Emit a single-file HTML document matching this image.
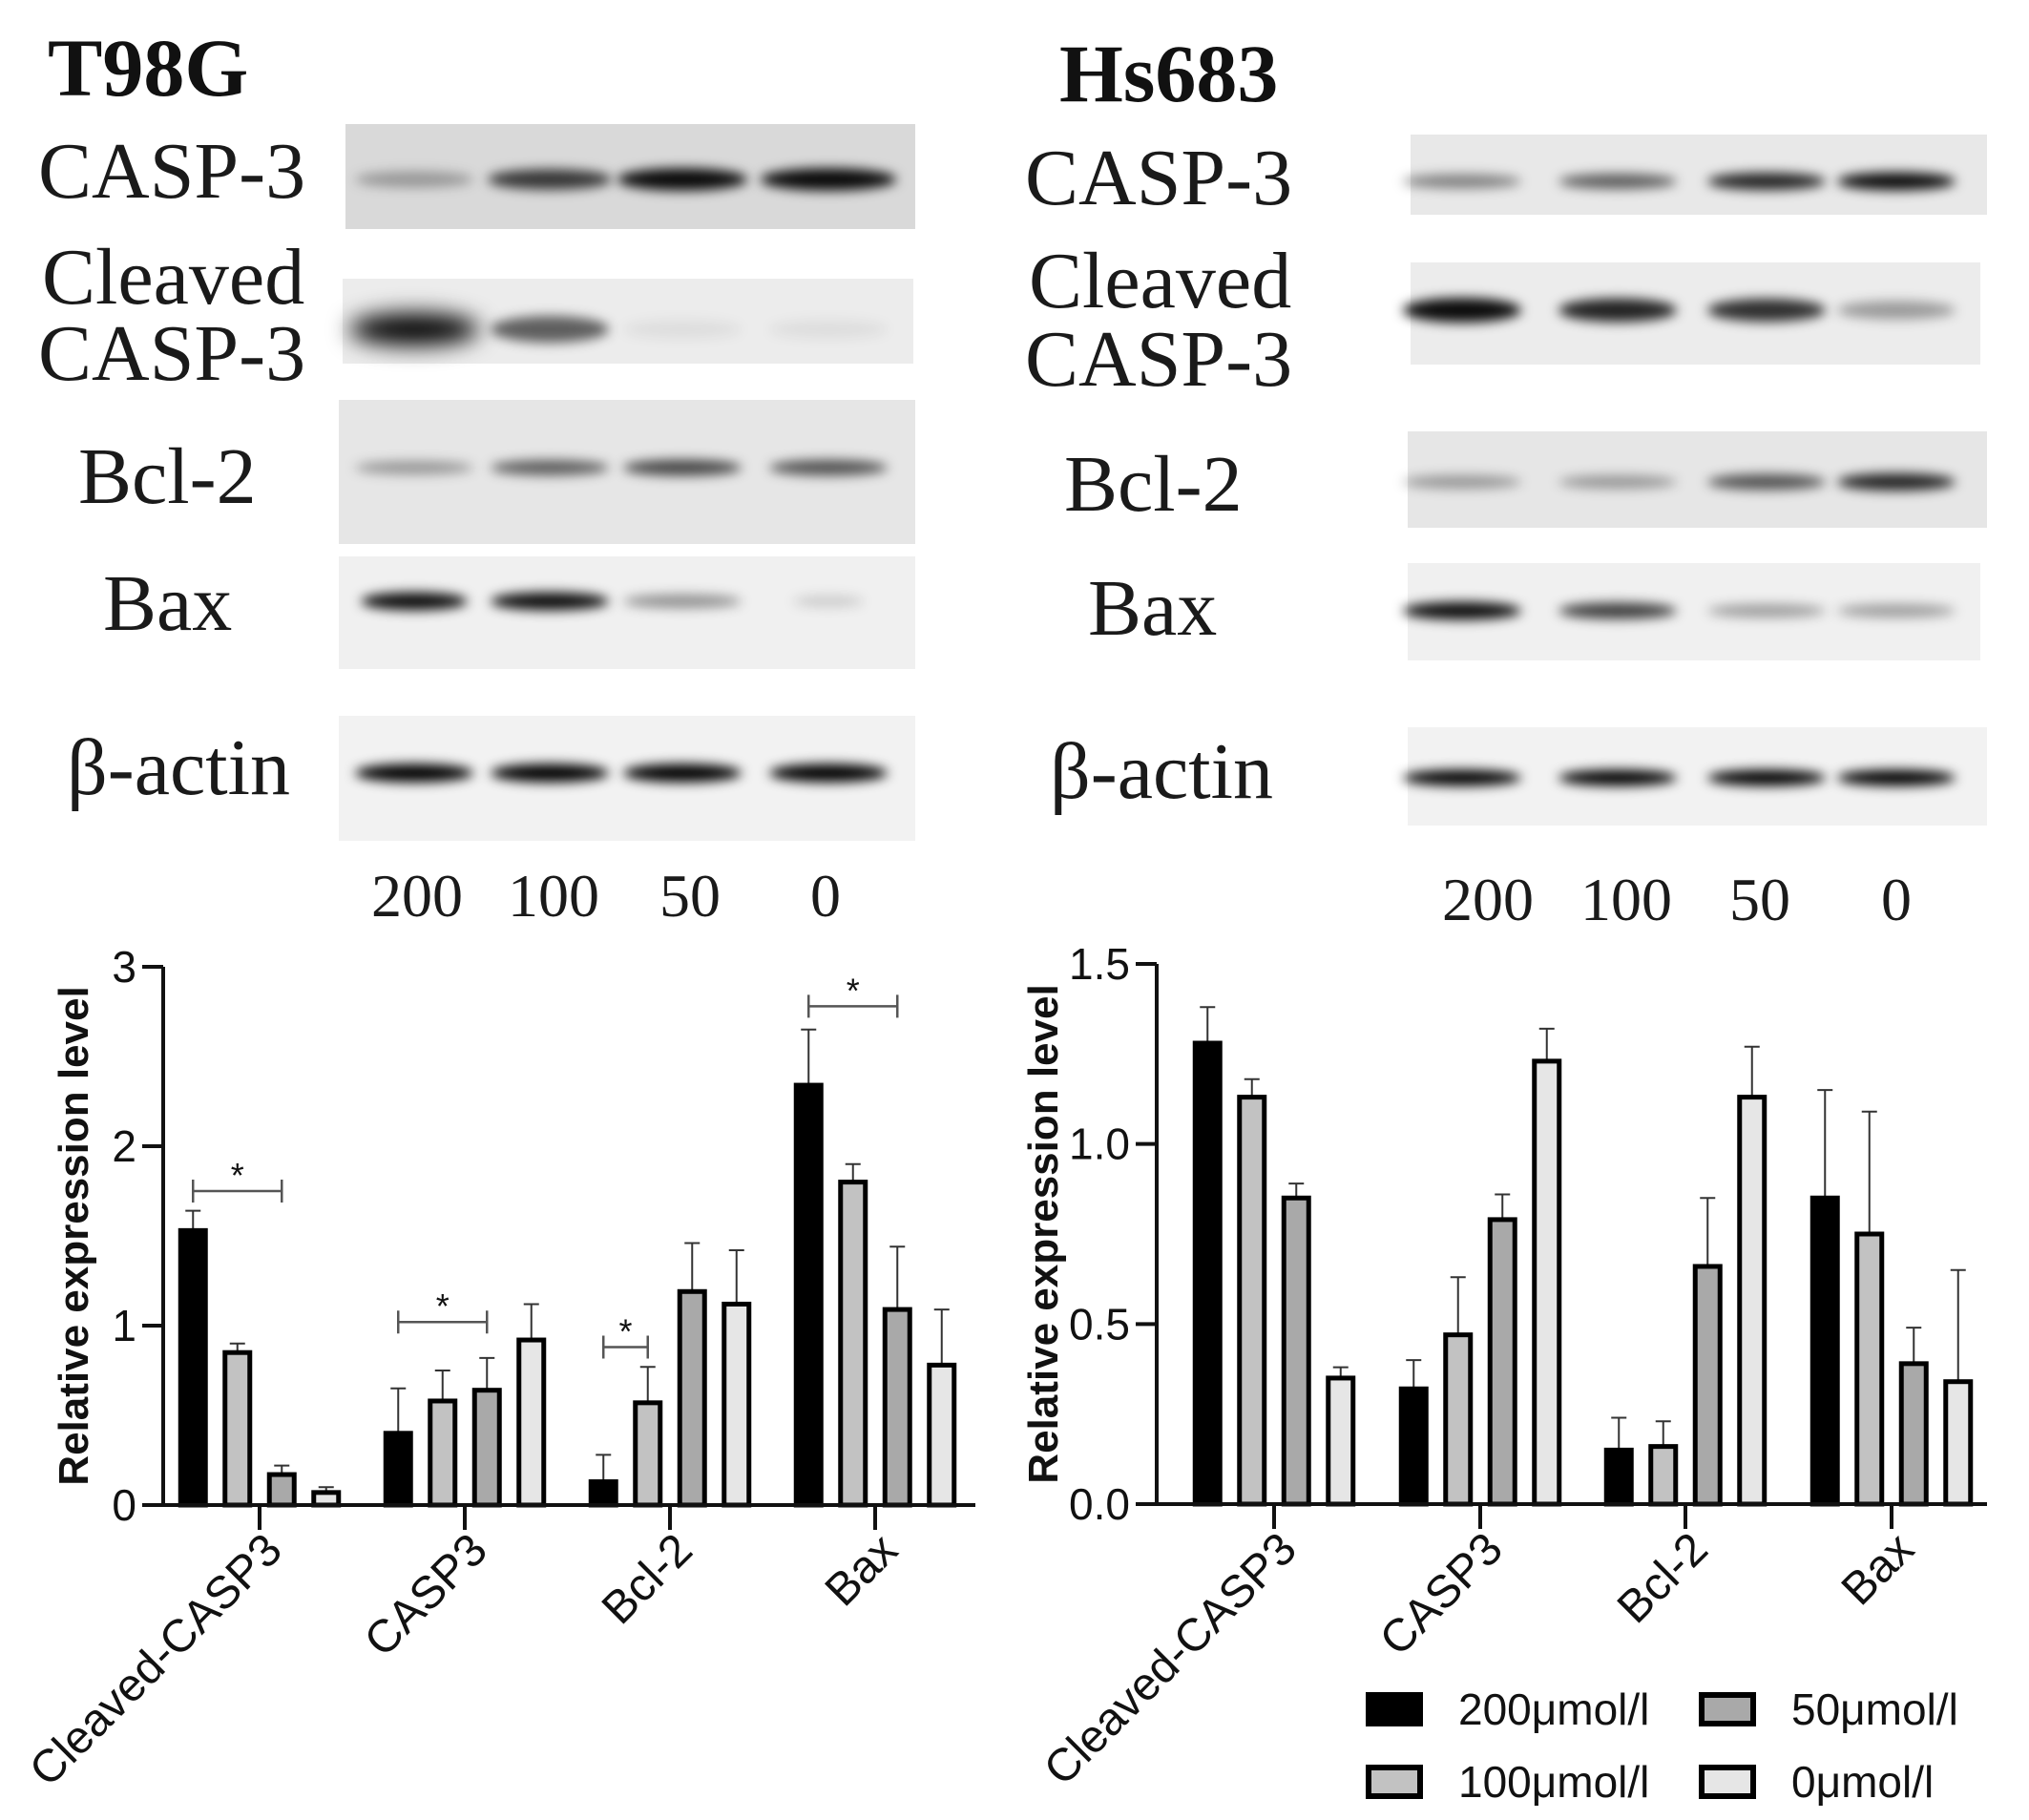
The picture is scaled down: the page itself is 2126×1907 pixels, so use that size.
<!DOCTYPE html>
<html><head><meta charset="utf-8">
<style>
html,body{margin:0;padding:0;background:#fff;}
#root{position:relative;width:2126px;height:1907px;overflow:hidden;background:#fff;}
svg{position:absolute;left:0;top:0;}
.blab{font-family:"Liberation Serif",serif;font-size:84px;fill:#1a1a1a;}
.ttl{font-family:"Liberation Serif",serif;font-size:86px;font-weight:bold;fill:#111;}
.num{font-family:"Liberation Serif",serif;font-size:64px;fill:#1a1a1a;}
.ax{font-family:"Liberation Sans",sans-serif;fill:#111;}
</style></head>
<body>
<div id="root">
<svg id="blots" width="2126" height="1907">
<defs>
<filter id="bl" x="-50%" y="-100%" width="200%" height="300%"><feGaussianBlur stdDeviation="6"/></filter>
<filter id="bl2" x="-50%" y="-100%" width="200%" height="300%"><feGaussianBlur stdDeviation="12"/></filter>
</defs>
<text class="ttl" x="50" y="100">T98G</text>
<text class="ttl" x="1110" y="106">Hs683</text>
</svg>
<svg id="charts" width="2126" height="1907"></svg>
</div>
<script>
// ---------- chart data ----------
const categories = ["Cleaved-CASP3","CASP3","Bcl-2","Bax"];
const seriesNames = ["200μmol/l","100μmol/l","50μmol/l","0μmol/l"];
const t98gValues = [[1.53,0.40,0.13,2.34],[0.85,0.58,0.57,1.80],[0.17,0.64,1.19,1.09],[0.07,0.92,1.12,0.78]];
const t98gErrors = [[0.11,0.25,0.15,0.31],[0.05,0.17,0.20,0.10],[0.05,0.18,0.27,0.35],[0.03,0.20,0.30,0.31]];
const hs683Values = [[1.28,0.32,0.15,0.85],[1.13,0.47,0.16,0.75],[0.85,0.79,0.66,0.39],[0.35,1.23,1.13,0.34]];
const hs683Errors = [[0.10,0.08,0.09,0.30],[0.05,0.16,0.07,0.34],[0.04,0.07,0.19,0.10],[0.03,0.09,0.14,0.31]];
const t98gTicks = [0,1,2,3];
const t98gTickLabels = ["0","1","2","3"];
const hs683Ticks = [0,0.5,1.0,1.5];
const hs683TickLabels = ["0.0","0.5","1.0","1.5"];
const t98gSig = [[0,0,2,1.75],[1,0,2,1.02],[2,0,1,0.88],[3,0,2,2.78]]; // [group, from-series, to-series, y]
const fills = ["#000","#c2c2c2","#a9a9a9","#e6e6e6"];

const NS="http://www.w3.org/2000/svg";
function mk(parent,tag,attrs){const e=document.createElementNS(NS,tag);for(const k in attrs)e.setAttribute(k,attrs[k]);parent.appendChild(e);return e;}

// ---------- blots ----------
const blots=document.getElementById('blots');
function blot(strips,lanes,labels,nums,numY,prefix){
  strips.forEach((s,i)=>{
    const g=mk(blots,'g',{});
    
    
    mk(g,'rect',{x:s.x,y:s.y,width:s.w,height:s.h,fill:s.bg});
    s.b.forEach((o,j)=>{
      if(o<0.03)return;
      const rx=(s.bw||62)*(s.wx?s.wx[j]:1);
      mk(g,'ellipse',{cx:lanes[j],cy:s.by,rx:rx,ry:s.bh*(0.7+0.5*o),fill:'#000','fill-opacity':o,filter:s.big&&j===0?'url(#bl2)':'url(#bl)'});
    });
  });
  labels.forEach(l=>{
    const t=mk(blots,'text',{x:l.x,y:l.y,class:'blab'});t.textContent=l.t;
    
    
  });
  nums.forEach((n,j)=>{
    const t=mk(blots,'text',{x:n,y:numY,class:'num','text-anchor':'middle'});t.textContent=["200","100","50","0"][j];
    
    
  });
}
blot([
 {n:'casp3',x:362,y:130,w:597,h:110,bg:'#d9d9d9',by:188,bh:10,b:[0.3,0.75,0.95,0.95],wx:[1,1.05,1.1,1.15]},
 {n:'cleaved',x:359,y:292,w:598,h:89,bg:'#ececec',by:345,bh:14,b:[1,0.6,0.06,0.06],wx:[1.1,1,1,1],big:true},
 {n:'bcl2',x:355,y:419,w:604,h:151,bg:'#e6e6e6',by:490,bh:8,b:[0.35,0.6,0.7,0.65]},
 {n:'bax',x:355,y:583,w:604,h:118,bg:'#f0f0f0',by:630,bh:8,b:[0.95,0.95,0.4,0.15],wx:[0.9,1,1,0.6]},
 {n:'actin',x:355,y:750,w:604,h:131,bg:'#f2f2f2',by:810,bh:8,b:[1,1,1,1]}
],[434,576,715,868],[
 {t:'CASP-3',x:40,y:207,n:'casp3'},{t:'Cleaved',x:44,y:318,n:'cleaved'},{t:'CASP-3',x:40,y:398,n:'cleaved-casp3'},
 {t:'Bcl-2',x:82,y:527,n:'bcl2'},{t:'Bax',x:108,y:660,n:'bax'},{t:'β-actin',x:70,y:832,n:'actin'}
],[437,580,723,865],960,'t98g');
blot([
 {n:'casp3',x:1478,y:141,w:604,h:84,bg:'#e8e8e8',by:190,bh:8,b:[0.45,0.6,0.85,0.95]},
 {n:'cleaved',x:1478,y:275,w:597,h:107,bg:'#ececec',by:325,bh:11,b:[0.95,0.85,0.8,0.35]},
 {n:'bcl2',x:1475,y:452,w:607,h:101,bg:'#e6e6e6',by:505,bh:8,b:[0.35,0.35,0.65,0.85]},
 {n:'bax',x:1475,y:590,w:600,h:102,bg:'#f0f0f0',by:640,bh:8,b:[0.95,0.75,0.35,0.35]},
 {n:'actin',x:1475,y:762,w:607,h:103,bg:'#f2f2f2',by:815,bh:7,b:[1,1,1,1]}
],[1532,1695,1851,1987],[
 {t:'CASP-3',x:1074,y:214,n:'casp3'},{t:'Cleaved',x:1078,y:322,n:'cleaved'},{t:'CASP-3',x:1074,y:404,n:'cleaved-casp3'},
 {t:'Bcl-2',x:1115,y:535,n:'bcl2'},{t:'Bax',x:1140,y:665,n:'bax'},{t:'β-actin',x:1100,y:836,n:'actin'}
],[1559,1704,1844,1987],964,'hs683');

// ---------- charts ----------
const charts=document.getElementById('charts');
function chart(cfg){
  const {ax,x0,x1,yTop,yBot,max,vals,errs,ticks,tickLabels,groupX,prefix,titleX}=cfg;
  const ys=v=>yBot-(v/max)*(yBot-yTop);
  const gs=(gi,si)=>groupX[gi]+(si-1.5)*46.5;
  const g=mk(charts,'g',{});
  
  
  for(let si=0;si<4;si++)for(let gi=0;gi<4;gi++){
    const v=vals[si][gi],e=errs[si][gi],cx=gs(gi,si);
    const el=mk(g,'line',{x1:cx,x2:cx,y1:ys(v),y2:ys(v+e),stroke:'#333','stroke-width':2});
    
    
    const cap=mk(g,'line',{x1:cx-8,x2:cx+8,y1:ys(v+e),y2:ys(v+e),stroke:'#333','stroke-width':2});
    
    
    const r=mk(g,'rect',{x:cx-13,y:ys(v),width:26,height:yBot-ys(v),fill:fills[si],stroke:'#000','stroke-width':5});
    
    
  }
  const ya=mk(g,'line',{x1:ax,x2:ax,y1:yTop,y2:yBot+2,stroke:'#111','stroke-width':4});
  
  const xa=mk(g,'line',{x1:ax-2,x2:x1,y1:yBot,y2:yBot,stroke:'#111','stroke-width':4});
  
  ticks.forEach((t,i)=>{
    const tk=mk(g,'line',{x1:ax-22,x2:ax,y1:ys(t),y2:ys(t),stroke:'#111','stroke-width':4});
    
    const tl=mk(g,'text',{x:ax-28,y:ys(t)+16,'text-anchor':'end','font-size':46,class:'ax'});tl.textContent=tickLabels[i];
    
  });
  categories.forEach((c,gi)=>{
    const tk=mk(g,'line',{x1:groupX[gi],x2:groupX[gi],y1:yBot,y2:yBot+26,stroke:'#111','stroke-width':4});
    
    const tx=groupX[gi]+26,ty=yBot+50;
    const tl=mk(g,'text',{x:tx,y:ty,'text-anchor':'end','font-size':48,class:'ax',transform:`rotate(-45 ${tx} ${ty})`});tl.textContent=c;
    
  });
  const tt=mk(g,'text',{x:titleX,y:(yTop+yBot)/2,'text-anchor':'middle','font-size':44,'font-weight':'bold',class:'ax',transform:`rotate(-90 ${titleX} ${(yTop+yBot)/2})`});
  tt.textContent='Relative expression level';
  
  return {ys,gs,g};
}
const L=chart({ax:171,x0:171,x1:1022,yTop:1013,yBot:1577,max:3,vals:t98gValues,errs:t98gErrors,ticks:t98gTicks,tickLabels:t98gTickLabels,groupX:[272,487,702,917],prefix:'t98g',titleX:92});
t98gSig.forEach(s=>{
  const xa=L.gs(s[0],s[1]),xb=L.gs(s[0],s[2]),y=L.ys(s[3]);
  const b=mk(L.g,'path',{d:`M${xa} ${y-12}V${y+12}M${xa} ${y}H${xb}M${xb} ${y-12}V${y+12}`,stroke:'#555','stroke-width':2.5,fill:'none'});
  
  const st=mk(L.g,'text',{x:(xa+xb)/2,y:y-4,'text-anchor':'middle','font-size':36,class:'ax',fill:'#444'});st.textContent='*';
  
});
chart({ax:1212,x0:1212,x1:2082,yTop:1010,yBot:1576,max:1.5,vals:hs683Values,errs:hs683Errors,ticks:hs683Ticks,tickLabels:hs683TickLabels,groupX:[1335,1551,1766,1982],prefix:'hs683',titleX:1108});

// legend
const legPos=[[1431,1790],[1431,1866],[1780,1790],[1780,1866]];
seriesNames.forEach((n,i)=>{
  const g=mk(charts,'g',{});
  
  
  const [x,y]=legPos[i];
  mk(g,'rect',{x:x+3,y:y-14,width:54,height:30,fill:fills[i],stroke:'#000','stroke-width':6});
  const t=mk(g,'text',{x:x+97,y:y+17,'font-size':46,class:'ax',fill:'#333'});t.textContent=n;
});
</script>
</body></html>
